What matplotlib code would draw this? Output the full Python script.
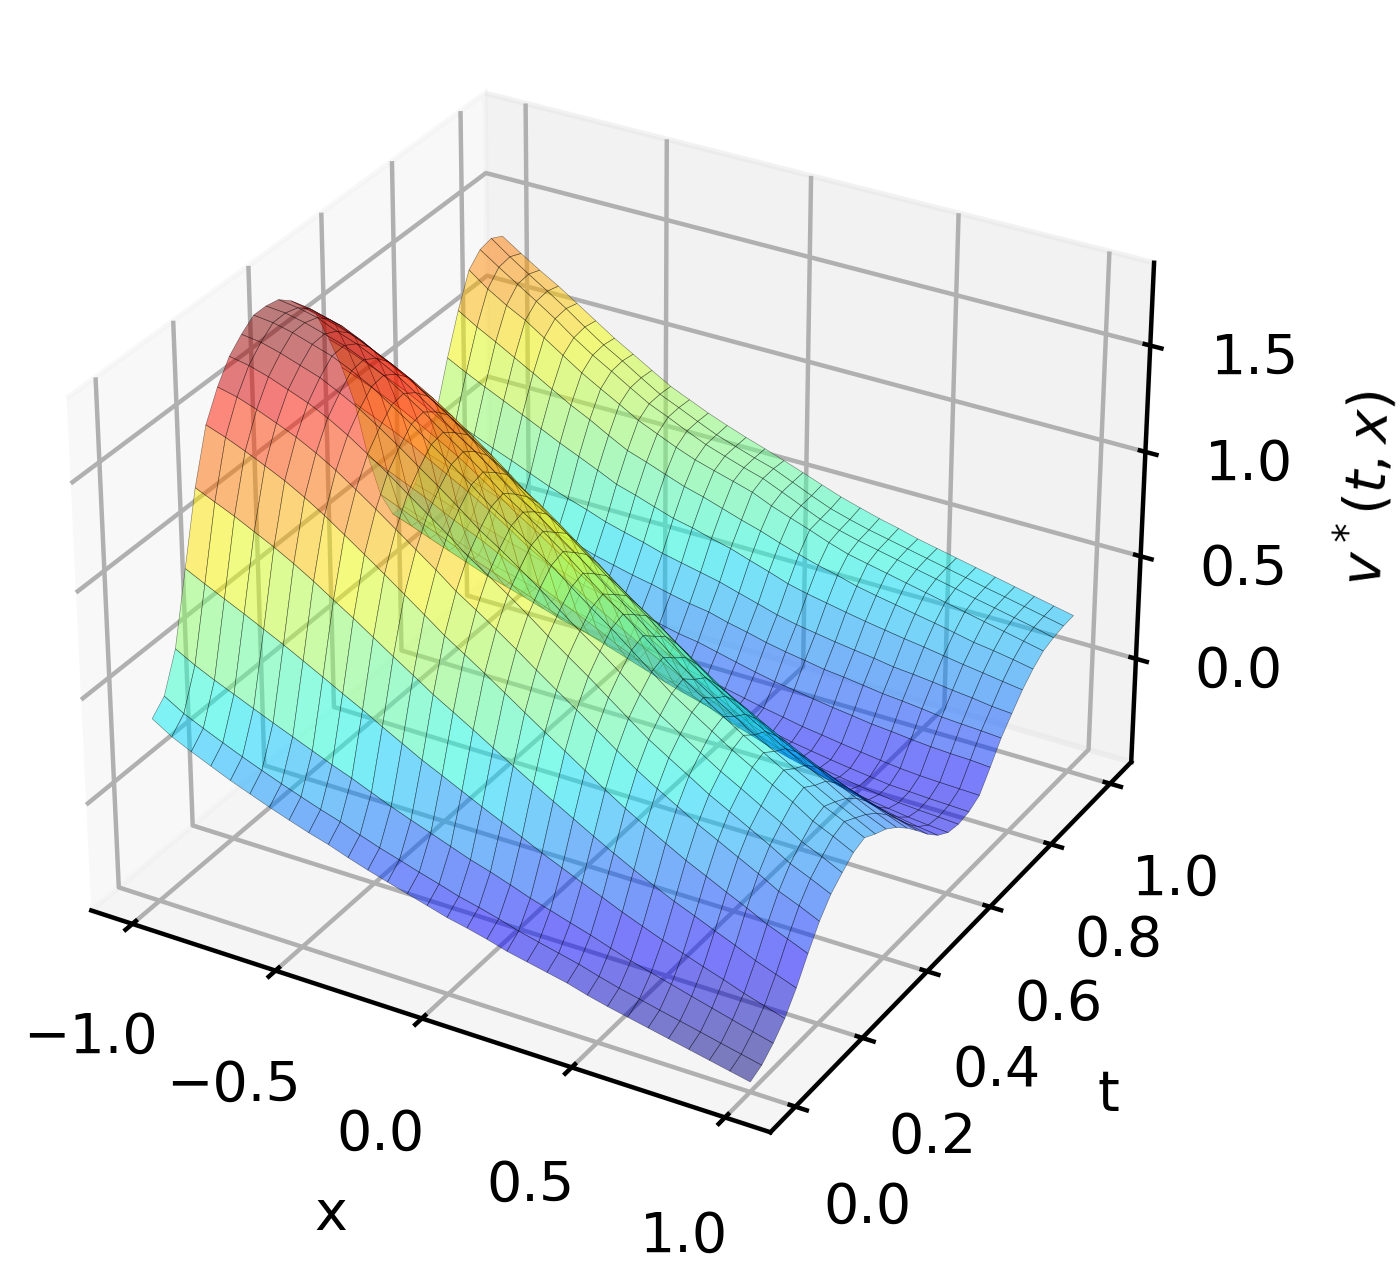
import numpy as np
import matplotlib
matplotlib.use('Agg')
import matplotlib.pyplot as plt

x_vals = [-1.0, -0.9333, -0.8667, -0.8, -0.7333, -0.6667, -0.6, -0.5333, -0.4667, -0.4,
          -0.3333, -0.2667, -0.2, -0.1333, -0.0667, 0.0, 0.0667, 0.1333, 0.2, 0.2667,
          0.3333, 0.4, 0.4667, 0.5333, 0.6, 0.6667, 0.7333, 0.8, 0.8667, 0.9333, 1.0]
t_vals = [0.0, 0.0333, 0.0667, 0.1, 0.1333, 0.1667, 0.2, 0.2333, 0.2667, 0.3,
          0.3333, 0.3667, 0.4, 0.4333, 0.4667, 0.5, 0.5333, 0.5667, 0.6, 0.6333,
          0.6667, 0.7, 0.7333, 0.7667, 0.8, 0.8333, 0.8667, 0.9, 0.9333, 0.9667, 1.0]
# one row per t value
v_vals = [
    [.365, .308, .265, .225, .185, .15, .115, .083, .052, .025, -.008, -.038, -.065, -.092, -.118, -.145, -.165, -.188, -.215, -.235, -.255, -.275, -.302, -.325, -.345, -.365, -.385, -.405, -.425, -.445, -.465],
    [.424, .369, .327, .287, .248, .212, .177, .144, .112, .083, .049, .017, -.011, -.04, -.067, -.096, -.118, -.143, -.171, -.194, -.216, -.238, -.266, -.291, -.312, -.334, -.355, -.376, -.398, -.419, -.44],
    [.60, .55, .507, .468, .428, .389, .351, .313, .275, .24, .201, .163, .128, .095, .061, .027, -.001, -.033, -.067, -.095, -.124, -.152, -.184, -.214, -.24, -.265, -.291, -.316, -.341, -.366, -.39],
    [.93, .885, .842, .799, .754, .709, .661, .612, .562, .514, .462, .412, .362, .318, .273, .228, .185, .142, .097, .056, .015, -.024, -.065, -.102, -.138, -.17, -.203, -.234, -.268, -.297, -.326],
    [1.26, 1.22, 1.18, 1.135, 1.09, 1.04, .985, .925, .867, .805, .743, .683, .621, .567, .512, .455, .399, .344, .29, .237, .184, .133, .084, .038, -.006, -.045, -.085, -.124, -.166, -.2, -.235],
    [1.505, 1.473, 1.435, 1.394, 1.351, 1.30, 1.243, 1.18, 1.116, 1.051, .984, .917, .848, .788, .727, .664, .60, .537, .476, .414, .352, .293, .239, .187, .136, .091, .045, .001, -.047, -.085, -.125],
    [1.635, 1.614, 1.582, 1.545, 1.506, 1.459, 1.405, 1.343, 1.279, 1.212, 1.145, 1.078, 1.006, .946, .883, .818, .75, .684, .62, .554, .487, .423, .365, .311, .256, .208, .159, .111, .058, .019, -.024],
    [1.732, 1.715, 1.688, 1.654, 1.619, 1.575, 1.522, 1.461, 1.399, 1.33, 1.263, 1.196, 1.122, 1.061, .998, .931, .86, .793, .727, .657, .587, .518, .46, .403, .345, .295, .244, .193, .137, .096, .052],
    [1.79, 1.778, 1.753, 1.722, 1.691, 1.646, 1.597, 1.537, 1.474, 1.406, 1.34, 1.27, 1.197, 1.137, 1.072, 1.005, .933, .863, .797, .725, .652, .582, .522, .463, .404, .353, .299, .248, .19, .148, .102],
    [1.835, 1.825, 1.804, 1.775, 1.746, 1.704, 1.656, 1.596, 1.535, 1.467, 1.401, 1.333, 1.259, 1.198, 1.134, 1.067, .993, .923, .855, .782, .708, .635, .575, .515, .455, .402, .348, .296, .236, .193, .146],
    [1.835, 1.827, 1.807, 1.78, 1.752, 1.712, 1.665, 1.607, 1.547, 1.48, 1.415, 1.348, 1.275, 1.215, 1.152, 1.085, 1.012, .942, .875, .802, .728, .655, .595, .535, .475, .422, .368, .315, .255, .212, .165],
    [1.822, 1.809, 1.788, 1.75, 1.717, 1.675, 1.627, 1.567, 1.504, 1.433, 1.372, 1.301, 1.227, 1.171, 1.102, 1.035, .962, .892, .825, .752, .678, .605, .545, .487, .428, .378, .326, .275, .226, .179, .132],
    [1.775, 1.762, 1.738, 1.70, 1.66, 1.617, 1.57, 1.507, 1.447, 1.38, 1.31, 1.247, 1.17, 1.115, 1.052, .98, .908, .842, .775, .702, .632, .565, .505, .448, .395, .342, .292, .245, .192, .145, .105],
    [1.702, 1.686, 1.664, 1.622, 1.57, 1.523, 1.472, 1.414, 1.351, 1.287, 1.219, 1.152, 1.095, 1.028, .959, .892, .819, .752, .692, .621, .552, .485, .432, .378, .325, .278, .233, .188, .143, .101, .062],
    [1.628, 1.604, 1.573, 1.532, 1.489, 1.442, 1.388, 1.328, 1.264, 1.197, 1.126, 1.054, .985, .918, .852, .785, .716, .652, .588, .523, .457, .395, .345, .294, .245, .198, .155, .115, .079, .043, .008],
    [1.47, 1.442, 1.405, 1.365, 1.325, 1.278, 1.225, 1.165, 1.102, 1.035, .968, .898, .825, .765, .702, .635, .575, .515, .455, .395, .338, .285, .238, .192, .145, .105, .068, .035, .002, -.028, -.055],
    [1.295, 1.26, 1.222, 1.18, 1.131, 1.081, 1.028, .968, .905, .838, .781, .719, .652, .592, .533, .475, .417, .361, .308, .257, .206, .155, .117, .078, .038, .007, -.024, -.055, -.08, -.102, -.122],
    [1.082, 1.042, 1.002, .96, .907, .857, .808, .753, .694, .632, .579, .526, .468, .414, .361, .308, .261, .214, .168, .126, .091, .042, .008, -.024, -.055, -.082, -.106, -.128, -.148, -.165, -.178],
    [.785, .745, .705, .665, .618, .575, .535, .488, .442, .395, .355, .312, .27, .222, .182, .145, .112, .078, .04, .002, -.028, -.06, -.085, -.108, -.135, -.153, -.172, -.185, -.198, -.208, -.215],
    [.555, .517, .478, .443, .405, .367, .333, .298, .264, .228, .197, .166, .135, .104, .073, .042, .015, -.01, -.035, -.062, -.087, -.115, -.134, -.151, -.168, -.183, -.196, -.207, -.214, -.219, -.225],
    [.415, .382, .347, .313, .28, .246, .22, .193, .164, .135, .113, .091, .068, .046, .02, -.005, -.027, -.048, -.068, -.091, -.112, -.132, -.147, -.162, -.175, -.187, -.199, -.203, -.208, -.211, -.215],
    [.405, .372, .338, .305, .272, .238, .215, .188, .162, .135, .115, .095, .075, .055, .03, .01, -.01, -.03, -.05, -.07, -.087, -.105, -.118, -.132, -.145, -.157, -.168, -.175, -.179, -.182, -.185],
    [.473, .442, .409, .377, .349, .319, .292, .265, .243, .212, .193, .175, .157, .13, .109, .095, .073, .051, .03, .011, -.003, -.018, -.032, -.044, -.057, -.065, -.075, -.083, -.088, -.091, -.098],
    [.58, .549, .519, .487, .455, .424, .395, .368, .342, .312, .29, .268, .25, .228, .209, .195, .17, .15, .127, .109, .094, .078, .068, .056, .043, .035, .025, .013, .007, .002, -.005],
    [.745, .71, .673, .635, .60, .562, .525, .492, .463, .43, .405, .382, .355, .335, .315, .295, .268, .242, .215, .195, .18, .165, .152, .14, .125, .117, .107, .095, .085, .072, .065],
    [.955, .908, .864, .822, .779, .736, .692, .652, .611, .568, .541, .51, .48, .46, .434, .412, .381, .352, .32, .298, .28, .262, .245, .23, .215, .202, .187, .172, .159, .145, .132],
    [1.142, 1.087, 1.039, .988, .937, .884, .832, .787, .736, .688, .657, .623, .59, .565, .535, .505, .478, .446, .417, .39, .368, .342, .323, .306, .288, .271, .252, .232, .219, .203, .185],
    [1.295, 1.228, 1.173, 1.125, 1.065, 1.005, .945, .893, .843, .79, .75, .71, .675, .648, .622, .595, .555, .522, .49, .455, .425, .405, .385, .365, .345, .325, .305, .285, .265, .245, .225],
    [1.352, 1.291, 1.233, 1.175, 1.115, 1.048, .988, .935, .88, .827, .787, .745, .705, .674, .644, .617, .577, .537, .497, .469, .445, .425, .405, .385, .365, .345, .324, .305, .285, .265, .242],
    [1.365, 1.30, 1.24, 1.182, 1.122, 1.057, .995, .942, .885, .83, .79, .748, .708, .677, .647, .62, .58, .54, .503, .476, .452, .432, .412, .392, .372, .352, .331, .312, .292, .272, .252],
    [1.335, 1.275, 1.218, 1.165, 1.105, 1.045, .985, .932, .878, .825, .785, .745, .71, .677, .647, .615, .582, .548, .515, .488, .462, .44, .415, .395, .375, .355, .335, .315, .295, .275, .255],
]

X, T = np.meshgrid(x_vals, t_vals)
V = np.array(v_vals)

fig = plt.figure(figsize=(3.5, 3.1575), dpi=400)
ax = fig.add_axes([0.0, 0.0431, 1209 / 1400, 1209 / 1263], projection='3d')
ax.plot_surface(X, T, V, cmap='jet', alpha=0.5,
                rstride=1, cstride=1, edgecolor='k', linewidth=0.1)
ax.set_xlabel('x')
ax.set_ylabel('t')
ax.set_zlabel('$v^*(t,x)$')
ax.set_xticks([-1.0, -0.5, 0.0, 0.5, 1.0])
ax.set_zticks([0.0, 0.5, 1.0, 1.5])
fig.savefig('out.png', dpi=400)
